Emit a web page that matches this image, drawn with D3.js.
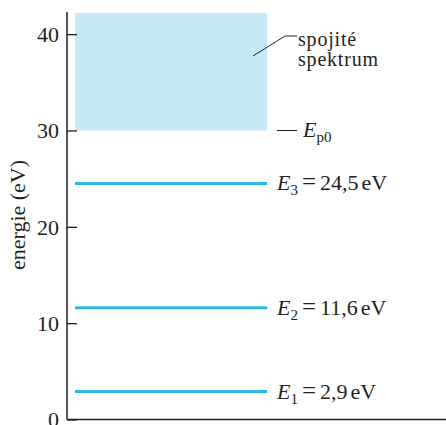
<!DOCTYPE html>
<html>
<head>
<meta charset="utf-8">
<script src="https://cdn.jsdelivr.net/npm/d3@7"></script>
<style>
  body { margin: 0; background: #fff; }
  svg text { font-family: 'Liberation Serif', 'DejaVu Serif', serif; fill: #231f20; }
</style>
</head>
<body>
<div id="chart"></div>
<script>
// energy levels (eV) and their subscripts
const levelNames = ['1', '2', '3'];
const levelValues = [2.9, 11.6, 24.5];
const levelTexts = ['2,9', '11,6', '24,5'];
// continuous spectrum starts at Ep0
const ionEnergy = 30;
const yTicks = [0, 10, 20, 30, 40];
const yMax = 42.3;

const width = 446, height = 425;
const margin = { top: 12, left: 67, bottom: 5.5 };
const serif = "'Liberation Serif', 'DejaVu Serif', serif";

const svg = d3.select('#chart').append('svg')
  .attr('width', width)
  .attr('height', height)
  .attr('font-family', serif);

const y = d3.scaleLinear()
  .domain([0, yMax])
  .range([height - margin.bottom, margin.top]);

const x0 = 75, x1 = 267;

// continuous spectrum box
svg.append('rect')
  .attr('x', x0)
  .attr('y', y(yMax) + 1)
  .attr('width', x1 - x0)
  .attr('height', y(ionEnergy) - y(yMax) - 1)
  .attr('fill', '#c6e9f8');

// y axis with inward ticks
const yAxis = svg.append('g')
  .attr('transform', 'translate(' + margin.left + ',0)')
  .call(d3.axisRight(y).tickValues(yTicks).tickSize(10).tickSizeOuter(0).tickFormat(d3.format('d')))
  .attr('font-family', serif)
  .attr('font-size', 22);
yAxis.select('.domain').remove();
yAxis.selectAll('.tick line').attr('stroke', '#231f20').attr('stroke-width', 1.3);
yAxis.selectAll('.tick text')
  .attr('x', -8)
  .attr('dy', '0.34em')
  .attr('text-anchor', 'end');

// axis lines
svg.append('line')
  .attr('x1', margin.left).attr('x2', margin.left)
  .attr('y1', margin.top).attr('y2', y(0))
  .attr('stroke', '#231f20').attr('stroke-width', 1.5);
svg.append('line')
  .attr('x1', margin.left).attr('x2', width)
  .attr('y1', y(0)).attr('y2', y(0))
  .attr('stroke', '#231f20').attr('stroke-width', 1.5);

// axis title
svg.append('text')
  .attr('transform', 'translate(25,' + 215 + ') rotate(-90)')
  .attr('text-anchor', 'middle')
  .attr('font-size', 22)
  .text('energie (eV)');

// levels
svg.selectAll('.level')
  .data(levelValues)
  .enter()
  .append('line')
  .attr('class', 'level')
  .attr('x1', x0).attr('x2', x1)
  .attr('y1', d => y(d)).attr('y2', d => y(d))
  .attr('stroke', '#2cb7e6')
  .attr('stroke-width', 3);

const labels = svg.selectAll('.lab')
  .data(levelValues)
  .enter()
  .append('text')
  .attr('class', 'lab')
  .attr('x', 277)
  .attr('y', d => y(d) + 7)
  .attr('font-size', 22);
labels.append('tspan').attr('font-style', 'italic').text('E');
labels.append('tspan').attr('dy', 5).attr('font-size', 15).text((d, i) => levelNames[i]);
labels.append('tspan').attr('dy', -5).attr('dx', 4).attr('font-size', 25).text('=');
labels.append('tspan').attr('dx', 4).text((d, i) => levelTexts[i]);
labels.append('tspan').attr('dx', 3).text('eV');

// Ep0 marker
svg.append('line')
  .attr('x1', 277).attr('x2', 297)
  .attr('y1', y(ionEnergy)).attr('y2', y(ionEnergy))
  .attr('stroke', '#231f20').attr('stroke-width', 1);
const ep = svg.append('text')
  .attr('x', 303)
  .attr('y', y(ionEnergy) + 7)
  .attr('font-size', 22);
ep.append('tspan').attr('font-style', 'italic').text('E');
ep.append('tspan').attr('dy', 5).attr('font-size', 15).text('p0');

// spectrum label with leader
svg.append('path')
  .attr('d', 'M253,56L285,36L297,36')
  .attr('fill', 'none')
  .attr('stroke', '#231f20')
  .attr('stroke-width', 1);
svg.append('text')
  .attr('x', 298).attr('y', 46)
  .attr('font-size', 20)
  .attr('letter-spacing', 0.8)
  .text('spojité');
svg.append('text')
  .attr('x', 298).attr('y', 66)
  .attr('font-size', 20)
  .attr('letter-spacing', 0.8)
  .text('spektrum');
</script>
</body>
</html>
